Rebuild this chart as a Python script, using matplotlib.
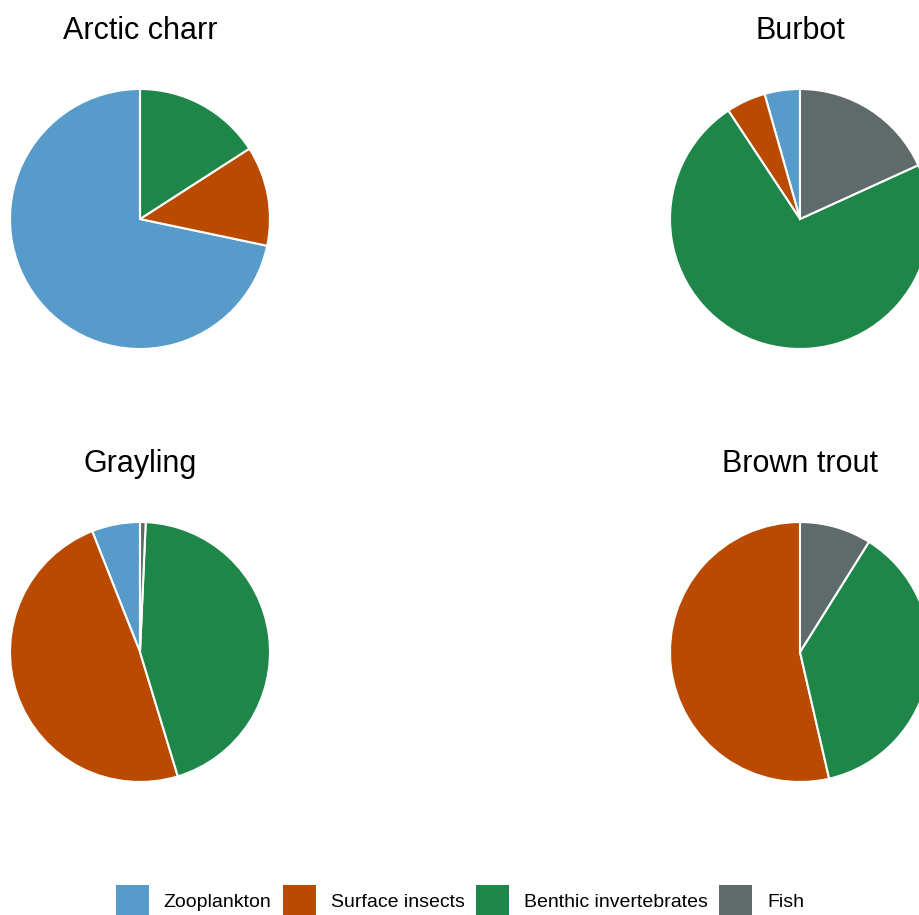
import matplotlib.pyplot as plt
from matplotlib.patches import Patch

plt.rcParams['font.family'] = ['Liberation Sans', 'DejaVu Sans']

categories = ["Zooplankton", "Surface insects", "Benthic invertebrates", "Fish"]
colors = ["#569BC9", "#BA4A00", "#1F8649", "#5F6A6A"]

species = ["Arctic charr", "Burbot", "Grayling", "Brown trout"]
arctic_charr = [71.7, 12.4, 15.9, 0.0]
burbot = [4.4, 4.9, 72.5, 18.2]
grayling = [6.0, 48.7, 44.6, 0.7]
brown_trout = [0.0, 53.6, 37.5, 8.9]
diets = [arctic_charr, burbot, grayling, brown_trout]

W, H = 920, 915
fig = plt.figure(figsize=(W / 100, H / 100), dpi=100)

# pie centres in pixels (from top-left), radius 130
centres = [(140, 219), (800, 219), (140, 652), (800, 652)]
R = 130

for name, vals, (cx, cy) in zip(species, diets, centres):
    ax = fig.add_axes([(cx - R) / W, (H - cy - R) / H, 2 * R / W, 2 * R / H])
    ax.pie(vals, colors=colors, startangle=90, counterclock=True,
           wedgeprops=dict(edgecolor="white", linewidth=1.5))
    ax.set_xlim(-1.0, 1.0)
    ax.set_ylim(-1.0, 1.0)
    ax.set_aspect("equal")
    ax.axis("off")
    fig.text(cx / W, 1 - (cy - 188) / H, name, ha="center", va="center", fontsize=22)

handles = [Patch(facecolor=c, edgecolor="none", label=l) for c, l in zip(colors, categories)]
fig.legend(handles=handles, loc="center", bbox_to_anchor=(0.5, 14 / H), ncol=4,
           frameon=False, fontsize=14, handlelength=1.7, handleheight=2.1,
           handletextpad=0.75, columnspacing=0.6)

fig.savefig("out.png", dpi=100)
